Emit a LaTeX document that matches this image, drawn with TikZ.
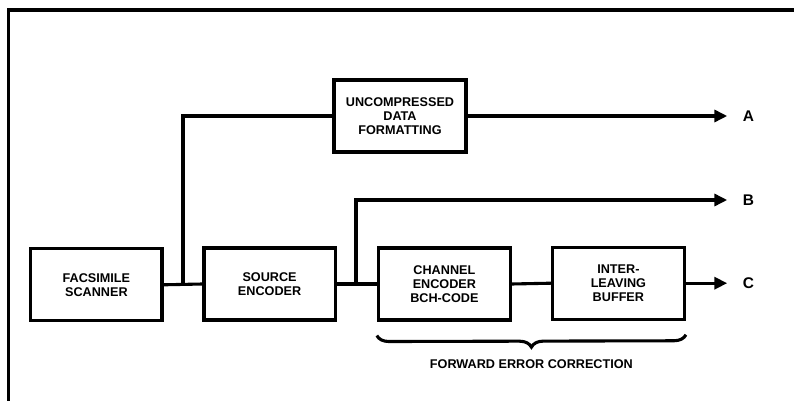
\documentclass[tikz,border=0pt]{standalone}
\usepackage{fontspec}
\setmainfont{Liberation Sans}
\usetikzlibrary{arrows.meta,decorations.pathreplacing}

\tikzset{
	blockbox/.style={draw, line width=2.2pt, minimum width=3.3cm, minimum height=1.8cm, align=center, font=\fontsize{9}{10}\selectfont\bfseries},
	wire/.style={line width=2.2pt},
	outarrow/.style={wire, -{Triangle[length=0.32cm,width=0.3cm]}},
	outlabel/.style={font=\fontsize{11}{12}\selectfont\bfseries, anchor=west}
}

\begin{document}
\begin{tikzpicture}
	
	\useasboundingbox (0,0) rectangle (19.85,-10.025);
	
	% frame
	\draw[line width=2.2pt] (0.22,-10.025) -- (0.22,-0.25) -- (19.85,-0.25);
	
	% blocks
	\node[blockbox, minimum width=3.28cm] (scanner) at (2.41,-7.12) {FACSIMILE\\SCANNER};
	\node[blockbox, minimum width=3.28cm] (source) at (6.74,-7.1) {SOURCE\\ENCODER};
	\node[blockbox] (uncomp) at (10.0,-2.9) {UNCOMPRESSED\\DATA\\FORMATTING};
	\node[blockbox] (channel) at (11.11,-7.1) {CHANNEL\\ENCODER\\BCH-CODE};
	\node[blockbox] (inter) at (15.46,-7.08) {INTER-\\LEAVING\\BUFFER};
	
	% outputs
	\coordinate (outA) at (18.18,-2.9);
	\coordinate (outB) at (18.18,-5.0);
	\coordinate (outC) at (18.18,-7.08);
	\node[outlabel] (labA) at (18.45,-2.9) {A};
	\node[outlabel] (labB) at (18.45,-5.0) {B};
	\node[outlabel] (labC) at (18.45,-7.08) {C};
	
	% taps
	\coordinate (tap1) at (4.575,-7.1);
	\coordinate (tap2) at (8.9,-7.1);
	
	\draw[wire] (scanner.east) -- (source.west);
	\draw[wire] (tap1) |- (uncomp.west);
	\draw[outarrow] (uncomp.east) -- (outA);
	\draw[wire] (source.east) -- (channel.west);
	\draw[outarrow] (tap2) |- (outB);
	\draw[wire] (channel.east) -- (inter.west);
	\draw[outarrow] (inter.east) -- (outC);
	
	% brace
	\draw[wire, decorate, decoration={brace, mirror, amplitude=0.3cm}] ([yshift=-0.35cm]channel.south west) -- ([yshift=-0.35cm]inter.south east) node[midway, below=0.45cm, font=\fontsize{9}{10}\selectfont\bfseries] (fec) {FORWARD ERROR CORRECTION};
	
\end{tikzpicture}
\end{document}
